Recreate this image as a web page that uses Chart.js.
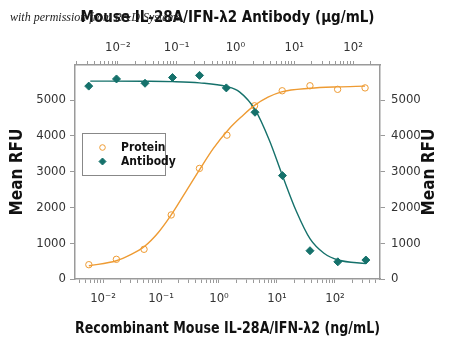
<!DOCTYPE html>
<html>
<head>
<meta charset="utf-8">
<script src="https://cdn.jsdelivr.net/npm/chart.js@4/dist/chart.umd.min.js"></script>
<style>
  body { margin: 0; background: #fff; }
  #contenedor { width: 450px; height: 344px; }
</style>
</head>
<body>
<div id="contenedor"><canvas id="grafico" width="450" height="344"></canvas></div>
<script>
// valores
const proteinConc = [0.0057, 0.017, 0.051, 0.15, 0.46, 1.37, 4.1, 12.3, 37, 111, 330];
const proteinRFU = [400, 550, 830, 1790, 3090, 4020, 4840, 5260, 5400, 5300, 5340];
const antibodyConc = [0.0032, 0.0095, 0.029, 0.085, 0.245, 0.7, 2.15, 6.3, 18.5, 55, 165];
const antibodyRFU = [5390, 5590, 5470, 5630, 5690, 5340, 4660, 2890, 790, 480, 530];

// curvas de ajuste, tambien
const proteinFitConc = [0.0057, 0.017, 0.03, 0.051, 0.09, 0.15, 0.27, 0.46, 0.8, 1.5, 2.5, 4.1, 7, 12, 37, 110, 330];
const proteinFitRFU = [370, 510, 680, 900, 1300, 1790, 2450, 3050, 3650, 4200, 4550, 4850, 5080, 5230, 5330, 5370, 5390];
const antibodyFitConc = [0.0034, 0.027, 0.085, 0.245, 0.7, 1.17, 2.18, 3.77, 6.27, 10.8, 18.6, 32, 56, 166];
const antibodyFitRFU = [5530, 5525, 5515, 5480, 5380, 5230, 4720, 3880, 2900, 1900, 1120, 720, 530, 430];

// etiquetas de los ejes
const logTickExponents = [-2, -1, 0, 1, 2];
const logTickLabels = ['10⁻²', '10⁻¹', '10⁰', '10¹', '10²'];
const rfuTicks = [0, 1000, 2000, 3000, 4000, 5000];

const naranja = '#EE9B33';
const verde = '#15716B';
const gris = '#9a9a9a';
const fuente = "'Liberation Sans Narrow', 'DejaVu Sans Condensed', 'Roboto', sans-serif";

function puntos(xs, ys) {
    return xs.map((x, i) => ({ x: x, y: ys[i] }));
}

// ticks menores 1..9 x 10^n dentro del rango
function ticksLog(scale) {
    let ticks = [];
    for (let e = -4; e <= 3; e++) {
        for (let m = 1; m <= 9; m++) {
            let v = m * Math.pow(10, e);
            if (v >= scale.min * 0.999 && v <= scale.max * 1.001) ticks.push({ value: v });
        }
    }
    scale.ticks = ticks;
}

function etiquetaLog(value) {
    let l = Math.log10(value);
    let idx = logTickExponents.indexOf(Math.round(l));
    if (Math.abs(l - Math.round(l)) < 1e-6 && idx >= 0) return logTickLabels[idx];
    return '';
}

function ticksRFU(scale) {
    scale.ticks = rfuTicks.map(v => ({ value: v }));
}

// leyenda, titulo derecho y marca de agua
const extras = {
    id: 'extras',
    afterDraw(chart) {
        const ctx = chart.ctx;
        ctx.save();
        // leyenda
        ctx.strokeStyle = '#888';
        ctx.lineWidth = 1;
        ctx.strokeRect(82.5, 133.5, 83, 42);
        ctx.fillStyle = '#fff';
        ctx.strokeStyle = naranja;
        ctx.beginPath(); ctx.arc(102.5, 147.5, 2.8, 0, Math.PI * 2); ctx.fill(); ctx.stroke();
        ctx.fillStyle = verde;
        ctx.strokeStyle = verde;
        Chart.helpers.drawPoint(ctx, { pointStyle: 'rectRot', radius: 3.5, borderWidth: 1 }, 102.5, 161.5);
        ctx.fillStyle = '#111';
        ctx.font = 'bold 12px ' + fuente;
        ctx.textBaseline = 'middle';
        ctx.textAlign = 'left';
        ctx.fillText('Protein', 121, 147.5);
        ctx.fillText('Antibody', 121, 161.5);
        // titulo eje derecho
        ctx.font = 'bold 17px ' + fuente;
        ctx.textAlign = 'center';
        ctx.translate(430, 172);
        ctx.rotate(-Math.PI / 2);
        ctx.fillText('Mean RFU', 0, 0);
        ctx.restore();
        // marca de agua
        ctx.save();
        ctx.font = "italic 12px 'Liberation Serif', serif";
        ctx.fillStyle = '#222';
        ctx.textAlign = 'left';
        ctx.textBaseline = 'alphabetic';
        ctx.fillText('with permission from R&D Systems', 10, 21);
        ctx.restore();
    }
};

const ejeX = {
    grid: { drawOnChartArea: false, tickLength: 4, tickColor: gris, tickWidth: 1 },
    border: { color: gris, width: 1.5 },
    afterBuildTicks: ticksLog,
    afterFit: s => { s.height = 65; }
};

const ejeY = {
    type: 'linear', min: 0, max: 5980,
    afterBuildTicks: ticksRFU,
    grid: { drawOnChartArea: false, tickLength: 5, tickColor: gris, tickWidth: 1 },
    border: { color: gris, width: 1.5 }
};

const tickFont = { family: fuente, size: 13 };

new Chart(document.getElementById('grafico'), {
    type: 'scatter',
    data: {
        datasets: [
            {
                label: 'Protein fit', data: puntos(proteinFitConc, proteinFitRFU),
                xAxisID: 'x', yAxisID: 'y', showLine: true, pointRadius: 0,
                borderColor: naranja, borderWidth: 1.4, cubicInterpolationMode: 'monotone'
            },
            {
                label: 'Antibody fit', data: puntos(antibodyFitConc, antibodyFitRFU),
                xAxisID: 'x2', yAxisID: 'y', showLine: true, pointRadius: 0,
                borderColor: verde, borderWidth: 1.4, cubicInterpolationMode: 'monotone'
            },
            {
                label: 'Protein', data: puntos(proteinConc, proteinRFU),
                xAxisID: 'x', yAxisID: 'y', pointStyle: 'circle', pointRadius: 3.2,
                pointBorderWidth: 1, borderColor: naranja, backgroundColor: '#fff'
            },
            {
                label: 'Antibody', data: puntos(antibodyConc, antibodyRFU),
                xAxisID: 'x2', yAxisID: 'y', pointStyle: 'rectRot', pointRadius: 4,
                pointBorderWidth: 1, borderColor: verde, backgroundColor: verde
            }
        ]
    },
    options: {
        responsive: false,
        animation: false,
        layout: { padding: 0 },
        plugins: { legend: { display: false }, tooltip: { enabled: false } },
        scales: {
            x: Object.assign({}, ejeX, {
                type: 'logarithmic', position: 'bottom', min: 0.00329, max: 597,
                ticks: { autoSkip: false, maxRotation: 0, padding: 8, color: '#333', font: tickFont, callback: etiquetaLog },
                title: {
                    display: true, text: 'Recombinant Mouse IL-28A/IFN-λ2 (ng/mL)', color: '#111',
                    font: { family: fuente, size: 16, weight: 'bold' }, padding: { top: 0, bottom: 6 }
                }
            }),
            x2: Object.assign({}, ejeX, {
                type: 'logarithmic', position: 'top', min: 0.00187, max: 287,
                ticks: { autoSkip: false, maxRotation: 0, padding: 6, color: '#333', font: tickFont, callback: etiquetaLog },
                title: {
                    display: true, text: 'Mouse IL-28A/IFN-λ2 Antibody (μg/mL)', color: '#111',
                    font: { family: fuente, size: 15, weight: 'bold' }, padding: { top: 9, bottom: 0 }
                }
            }),
            y: Object.assign({}, ejeY, {
                position: 'left',
                afterFit: s => { s.width = 75; },
                ticks: { padding: 4, color: '#333', font: tickFont, callback: v => String(v) },
                title: {
                    display: true, text: 'Mean RFU', color: '#111',
                    font: { family: fuente, size: 17, weight: 'bold' }, padding: { top: 7, bottom: 0 }
                }
            }),
            y2: Object.assign({}, ejeY, {
                position: 'right',
                afterFit: s => { s.width = 70; },
                ticks: { padding: 6, color: '#333', font: tickFont, callback: v => String(v) }
            })
        }
    },
    plugins: [extras]
});
</script>
</body>
</html>
